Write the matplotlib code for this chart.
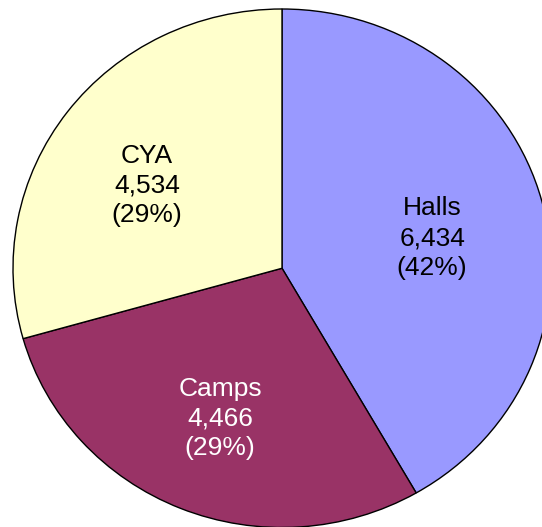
import matplotlib
matplotlib.use("Agg")
import matplotlib.pyplot as plt

labels = ["Halls", "Camps", "CYA"]
counts = [6434, 4466, 4534]
percents = [42, 29, 29]
colors = ["#9999FF", "#993366", "#FFFFCC"]
text_colors = ["black", "white", "black"]
label_pos = [(0.558, 0.116), (-0.230, -0.579), (-0.502, 0.320)]

plt.rcParams["font.family"] = ["Liberation Sans", "DejaVu Sans"]

fig = plt.figure(figsize=(5.42, 5.27), dpi=100)
# pie is slightly wider than tall and runs off the right/bottom edges
ax = fig.add_axes([13 / 542, -0.5 / 527, 538 / 542, 518.5 / 527])

wedges, _ = ax.pie(
    counts,
    colors=colors,
    startangle=90,
    counterclock=False,
    radius=1.0,
    wedgeprops={"edgecolor": "black", "linewidth": 1.0},
)
ax.set_aspect("auto")
ax.set_xlim(-1, 1)
ax.set_ylim(-1, 1)
ax.axis("off")

for name, n, p, (x, y), tc in zip(labels, counts, percents, label_pos, text_colors):
    ax.text(x, y, f"{name}\n{n:,}\n({p}%)", ha="center", va="center",
            fontsize=19, color=tc, linespacing=1.3)

fig.savefig("out.png", dpi=100)
